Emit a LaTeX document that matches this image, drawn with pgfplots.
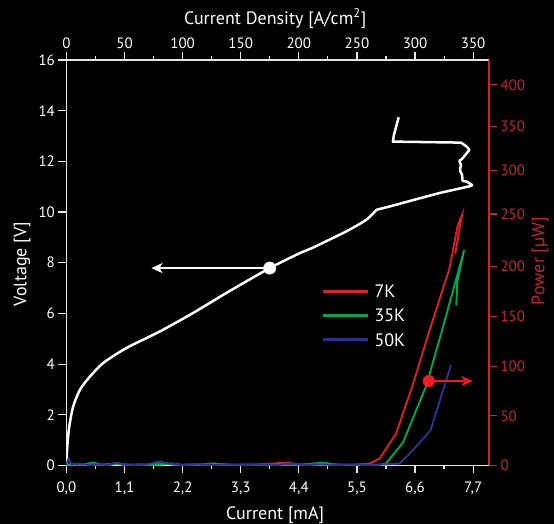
\documentclass[border=0pt]{standalone}
\usepackage{fontspec}
\setmainfont{PT Sans}
\usepackage{pgfplots}
\pgfplotsset{compat=1.18}
\usetikzlibrary{arrows.meta}

\definecolor{axwhite}{HTML}{E6E6E6}
\definecolor{axred}{HTML}{C1272D}
\definecolor{cred}{HTML}{DA2128}
\definecolor{cgreen}{HTML}{00A651}
\definecolor{cblue}{HTML}{2E3192}
\definecolor{dotred}{HTML}{ED1C24}

\pgfplotsset{
  common/.style={
    at={(66.4pt,58.5pt)}, anchor=south west,
    width=422.6pt, height=405.5pt, scale only axis,
    xmin=0, xmax=8,
    tick align=outside,
    major tick length=8pt, minor tick length=4pt,
    xtick={0,1.1,2.2,3.3,4.4,5.5,6.6,7.7},
    minor xtick={0.55,1.65,2.75,3.85,4.95,6.05,7.15},
    ticklabel style={font=\fontsize{15}{15}\selectfont},
    label style={font=\fontsize{18}{18}\selectfont, text=white},
    /pgf/number format/assume math mode=true,
  },
}

\begin{document}
\begin{tikzpicture}
\path[use as bounding box, fill=black] (0pt,0pt) rectangle (554pt,524pt);

% voltage vs current (left / bottom)
\begin{axis}[common,
  ymin=0, ymax=16,
  axis x line*=bottom, axis y line*=left,
  axis line style={draw=axwhite, line width=1.3pt, -},
  tick style={draw=axwhite, line width=1.2pt},
  ytick={0,2,...,16},
  xticklabels={{0,0},{1,1},{2,2},{3,3},{4,4},{5,5},{6,6},{7,7}},
  ticklabel style={text=white},
  x tick label style={yshift=-5pt},
  xlabel={Current [mA]}, ylabel={Voltage [V]},
  xlabel style={at={(axis description cs:0.494,-0.122)}, anchor=center},
  ylabel style={at={(axis description cs:-0.105,0.497)}, anchor=center},
]
\addplot[white, line width=2.5pt, smooth, tension=0.45, line join=round] coordinates {
  (0,0) (0.005,0.3) (0.017,0.76) (0.055,1.55) (0.13,2.34) (0.26,3.0)
  (0.45,3.52) (0.70,4.05) (1.14,4.64) (1.77,5.29) (2.40,6.02) (3.03,6.81)
  (3.85,7.79) (4.42,8.38) (4.67,8.60) (5.30,9.24) (5.68,9.70) (5.87,10.09)
};
\addplot[white, line width=2.5pt, line join=round] coordinates {
  (5.87,10.09)
  (6.12,10.22) (6.56,10.47) (7.06,10.75) (7.66,11.03) (7.68,11.07)
  (7.58,11.20) (7.50,11.23) (7.49,11.46) (7.45,11.66) (7.47,11.86)
  (7.44,12.02) (7.50,12.12) (7.60,12.38) (7.63,12.45) (7.58,12.58)
  (7.47,12.74) (6.18,12.78) (6.20,13.04) (6.29,13.74)
};
\addplot[white, line width=1.8pt, -{Stealth[length=11pt,width=10pt,inset=3pt]}]
  coordinates {(3.85,7.79) (1.61,7.79)};
\addplot[only marks, mark=*, mark size=6.2pt, white] coordinates {(3.85,7.79)};
\end{axis}

% power vs current (right / top)
\begin{axis}[common,
  ymin=0, ymax=408,
  axis x line*=top, axis y line*=right,
  x axis line style={draw=axwhite, line width=1.3pt, -},
  y axis line style={draw=axred, line width=1.3pt, -},
  x tick style={draw=axwhite, line width=1.2pt},
  y tick style={draw=axred, line width=1.2pt},
  xticklabels={0,50,100,150,200,250,300,350},
  ytick={0,50,100,150,200,253,297,341,383},
  yticklabels={0,50,100,150,200,250,300,350,400},
  x tick label style={text=white},
  y tick label style={text=axred},
  xlabel={Current Density [A/cm\textsuperscript{2}]},
  ylabel={Power [µW]},
  xlabel style={at={(axis description cs:0.494,1.102)}, anchor=center},
  ylabel style={at={(axis description cs:1.121,0.504)}, anchor=center, text=axred},
]
\addplot[cred, line width=1.9pt] coordinates {
  (0,1) (0.1,2) (0.2,0.5) (0.35,1.5) (0.5,0.5) (0.7,1) (0.9,2) (1.1,0.5)
  (1.3,1) (1.5,0.5) (1.7,2.5) (1.9,1.5) (2.1,0.5) (2.4,1) (2.7,0.5) (3.0,1)
  (3.3,0.5) (3.6,1) (3.9,2) (4.2,3) (4.35,1) (4.6,0.5) (4.9,1.5) (5.2,0.5)
  (5.5,1) (5.74,2) (5.93,7) (6.24,32) (6.55,80) (6.84,130) (7.05,165)
  (7.25,198) (7.41,242) (7.49,252) (7.36,213)
};
\addplot[cgreen, line width=1.9pt] coordinates {
  (0,0.5) (0.15,1) (0.3,0.5) (0.5,3) (0.65,1) (0.8,0.5) (1.0,2) (1.2,0.5)
  (1.45,1) (1.6,0.5) (1.8,1) (2.0,2) (2.2,0.5) (2.5,1) (2.8,2) (3.1,0.5)
  (3.4,1) (3.7,0.5) (4.0,1) (4.3,0.5) (4.6,1.5) (4.85,3) (5.1,1) (5.4,0.5)
  (5.7,1) (5.9,0.5) (6.05,2) (6.37,23) (6.81,80) (7.08,130) (7.35,182)
  (7.53,217) (7.40,185) (7.38,161)
};
\addplot[cblue, line width=1.9pt] coordinates {
  (0,1) (0.04,7) (0.1,1) (0.25,2) (0.4,0.5) (0.6,1) (0.8,0.5) (0.95,3)
  (1.1,1) (1.3,0.5) (1.5,1) (1.75,4) (1.95,2) (2.2,0.5) (2.5,1) (2.8,0.5)
  (3.1,1) (3.4,0.5) (3.7,1) (4.0,0.5) (4.3,2) (4.5,0.5) (4.8,1) (5.1,0.5)
  (5.4,1) (5.7,0.5) (6.0,1) (6.31,2) (6.50,12) (6.89,35) (7.28,101)
};
\addplot[dotred, line width=1.8pt, -{Stealth[length=11pt,width=10pt,inset=3pt]}]
  coordinates {(6.86,85) (7.69,85)};
\addplot[only marks, mark=*, mark size=5.8pt, dotred] coordinates {(6.86,85)};

% legend
\draw[cred, line width=2.6pt] (axis cs:4.85,175) -- (axis cs:5.70,175);
\draw[cgreen, line width=2.6pt] (axis cs:4.85,151) -- (axis cs:5.70,151);
\draw[cblue, line width=2.6pt] (axis cs:4.85,126.5) -- (axis cs:5.70,126.5);
\begin{scope}[every node/.style={anchor=west, text=white, inner sep=0pt,
    font=\fontsize{18}{18}\selectfont}]
\node at (axis cs:5.83,175) {7K};
\node at (axis cs:5.83,151) {35K};
\node at (axis cs:5.83,126.5) {50K};
\end{scope}
\end{axis}
\end{tikzpicture}
\end{document}
